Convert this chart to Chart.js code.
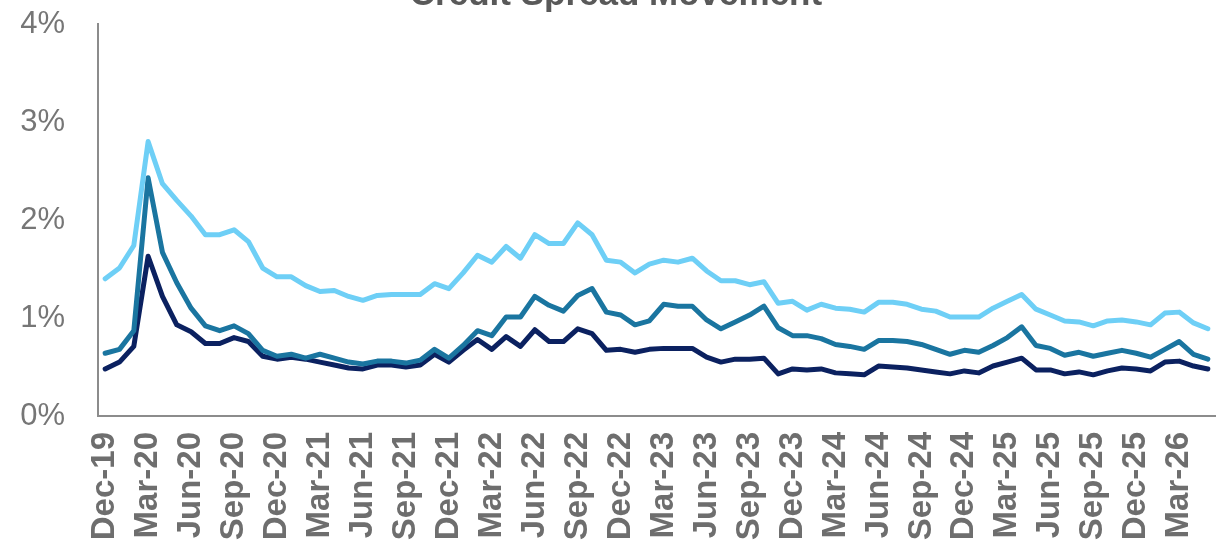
<!DOCTYPE html>
<html>
<head>
<meta charset="utf-8">
<script src="https://cdn.jsdelivr.net/npm/chart.js@4/dist/chart.umd.min.js"></script>
<style>
  html, body { margin: 0; padding: 0; background: #fff; }
  #wrap { width: 1231px; height: 540px; position: relative; }
</style>
</head>
<body>
<div id="wrap"><canvas id="spreadChart"></canvas></div>
<script>
// month labels, Dec-19 .. May-26
const months = [
  'Dec-19','Jan-20','Feb-20','Mar-20','Apr-20','May-20','Jun-20','Jul-20','Aug-20','Sep-20','Oct-20','Nov-20',
  'Dec-20','Jan-21','Feb-21','Mar-21','Apr-21','May-21','Jun-21','Jul-21','Aug-21','Sep-21','Oct-21','Nov-21',
  'Dec-21','Jan-22','Feb-22','Mar-22','Apr-22','May-22','Jun-22','Jul-22','Aug-22','Sep-22','Oct-22','Nov-22',
  'Dec-22','Jan-23','Feb-23','Mar-23','Apr-23','May-23','Jun-23','Jul-23','Aug-23','Sep-23','Oct-23','Nov-23',
  'Dec-23','Jan-24','Feb-24','Mar-24','Apr-24','May-24','Jun-24','Jul-24','Aug-24','Sep-24','Oct-24','Nov-24',
  'Dec-24','Jan-25','Feb-25','Mar-25','Apr-25','May-25','Jun-25','Jul-25','Aug-25','Sep-25','Oct-25','Nov-25',
  'Dec-25','Jan-26','Feb-26','Mar-26','Apr-26','May-26'
];

// spreads in %
const lightSeries = [
  1.40,1.51,1.74,2.80,2.37,2.20,2.04,1.85,1.85,1.90,1.78,1.51,
  1.42,1.42,1.33,1.27,1.28,1.22,1.18,1.23,1.24,1.24,1.24,1.35,
  1.30,1.46,1.64,1.57,1.73,1.61,1.85,1.76,1.76,1.97,1.85,1.59,
  1.57,1.46,1.55,1.59,1.57,1.61,1.48,1.38,1.38,1.34,1.37,1.15,
  1.17,1.08,1.14,1.10,1.09,1.06,1.16,1.16,1.14,1.09,1.07,1.01,
  1.01,1.01,1.10,1.17,1.24,1.09,1.03,0.97,0.96,0.92,0.97,0.98,
  0.96,0.93,1.05,1.06,0.95,0.89
];
const midSeries = [
  0.64,0.68,0.87,2.43,1.67,1.36,1.10,0.92,0.87,0.92,0.84,0.67,
  0.61,0.63,0.59,0.63,0.59,0.55,0.53,0.56,0.56,0.54,0.57,0.68,
  0.59,0.72,0.87,0.82,1.01,1.01,1.22,1.13,1.07,1.23,1.30,1.06,
  1.03,0.93,0.97,1.14,1.12,1.12,0.98,0.89,0.96,1.03,1.12,0.90,
  0.82,0.82,0.79,0.73,0.71,0.68,0.77,0.77,0.76,0.73,0.68,0.63,
  0.67,0.65,0.72,0.80,0.91,0.72,0.69,0.62,0.65,0.61,0.64,0.67,
  0.64,0.60,0.68,0.76,0.63,0.58
];
const darkSeries = [
  0.48,0.55,0.71,1.63,1.22,0.93,0.86,0.74,0.74,0.80,0.76,0.61,
  0.58,0.60,0.58,0.55,0.52,0.49,0.48,0.52,0.52,0.50,0.52,0.63,
  0.55,0.67,0.78,0.68,0.81,0.71,0.88,0.76,0.76,0.89,0.84,0.67,
  0.68,0.65,0.68,0.69,0.69,0.69,0.60,0.55,0.58,0.58,0.59,0.43,
  0.48,0.47,0.48,0.44,0.43,0.42,0.51,0.50,0.49,0.47,0.45,0.43,
  0.46,0.44,0.51,0.55,0.59,0.47,0.47,0.43,0.45,0.42,0.46,0.49,
  0.48,0.46,0.55,0.56,0.51,0.48
];

const yTicks = [0, 1, 2, 3, 4];

// title sits mostly above the canvas, only its lower part shows
const titlePlugin = {
    id: 'cutTitle',
    afterDraw(chart) {
        const c = chart.ctx;
        c.save();
        c.font = 'bold 35px "Liberation Sans", Arial, sans-serif';
        c.fillStyle = '#595959';
        c.textAlign = 'center';
        c.textBaseline = 'alphabetic';
        c.fillText('Credit Spread Movement', 616, 5);
        c.restore();
    }
};

function lineSet(label, data, color) {
    return {
        label: label,
        data: data,
        borderColor: color,
        backgroundColor: color,
        borderWidth: 5,
        borderJoinStyle: 'round',
        borderCapStyle: 'round',
        pointRadius: 0,
        tension: 0,
        fill: false
    };
}

// invisible tick marks are used as the gap between labels and axis line
const hiddenGrid = (len) => ({
    display: true,
    drawOnChartArea: false,
    drawTicks: true,
    tickLength: len,
    color: 'rgba(0,0,0,0)'
});

const ctx = document.getElementById('spreadChart').getContext('2d');
new Chart(ctx, {
    type: 'line',
    data: {
        labels: months,
        datasets: [
            lineSet('Light', lightSeries, '#6ecff6'),
            lineSet('Mid', midSeries, '#1a75a0'),
            lineSet('Dark', darkSeries, '#0b2160')
        ]
    },
    options: {
        responsive: true,
        maintainAspectRatio: false,
        animation: false,
        layout: { padding: { top: 24, right: 16, left: 0, bottom: 0 } },
        plugins: {
            legend: { display: false },
            tooltip: { enabled: false }
        },
        scales: {
            x: {
                offset: true,
                grid: hiddenGrid(16),
                border: { display: true, color: '#8c8c8c', width: 2 },
                afterFit: (scale) => {
                    scale.height = 124;
                    scale.paddingLeft = 0;
                    scale.paddingRight = 0;
                },
                ticks: {
                    autoSkip: false,
                    minRotation: 90,
                    maxRotation: 90,
                    padding: 0,
                    color: '#6e6e6e',
                    font: { family: '"Liberation Sans", Arial, sans-serif', size: 33, weight: 'bold' },
                    callback: function(val, idx) {
                        return idx % 3 === 0 ? months[idx] : '';
                    }
                }
            },
            y: {
                min: yTicks[0],
                max: yTicks[yTicks.length - 1],
                grid: hiddenGrid(33),
                border: { display: true, color: '#8c8c8c', width: 2 },
                afterFit: (scale) => { scale.width = 98; },
                afterBuildTicks: (scale) => { scale.ticks = yTicks.map(v => ({ value: v })); },
                ticks: {
                    padding: 0,
                    color: '#767676',
                    font: { family: '"Liberation Sans", Arial, sans-serif', size: 31 },
                    callback: (v) => v + '%'
                }
            }
        }
    },
    plugins: [titlePlugin]
});
</script>
</body>
</html>
